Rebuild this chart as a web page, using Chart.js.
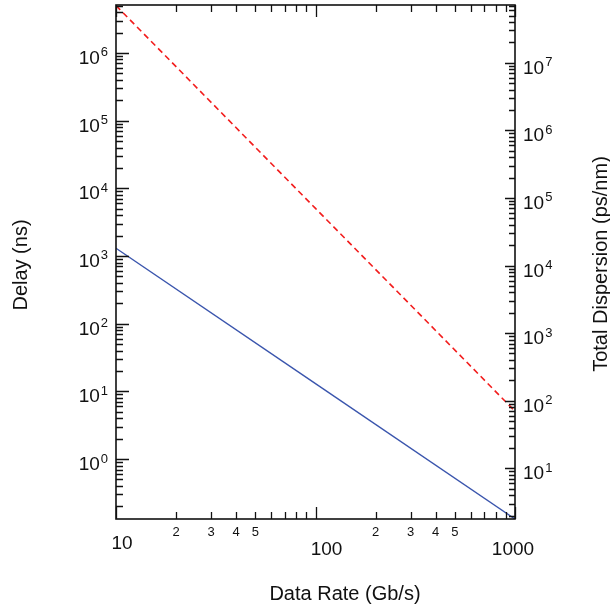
<!DOCTYPE html>
<html>
<head>
<meta charset="utf-8">
<script src="https://cdn.jsdelivr.net/npm/chart.js@4/dist/chart.umd.min.js"></script>
<style>
    body { margin: 0; background: #fff; }
    canvas { display: block; }
</style>
</head>
<body>
<canvas id="chart" width="610" height="609"></canvas>
<script>
// values (log-log, straight lines)
const dataRate = [10, 100, 1000];
const delayNs = [1300, 13, 0.13];
const dispersion = [7.0e7, 7.0e4, 70];

const xMajorTicks = [10, 100, 1000];
const xMajorLabels = ['10', '100', '1000'];
const xMinorLabelTicks = [20, 30, 40, 50, 200, 300, 400, 500];
const xMinorLabels = ['2', '3', '4', '5', '2', '3', '4', '5'];
const delayExponents = [0, 1, 2, 3, 4, 5, 6];
const dispExponents = [1, 2, 3, 4, 5, 6, 7];

const FONT = '"Liberation Sans", Arial, sans-serif';

function toPoints(xs, ys) {
    return xs.map((v, i) => ({x: v, y: ys[i]}));
}

// every decade multiple (1..9 x 10^e) that falls inside the scale
function logTicks(scale) {
    const out = [];
    const e0 = Math.floor(Math.log10(scale.min));
    const e1 = Math.ceil(Math.log10(scale.max));
    for (let e = e0; e <= e1; e++) {
        for (let m = 1; m <= 9; m++) {
            const v = m * Math.pow(10, e);
            if (v >= scale.min * 0.999 && v <= scale.max * 1.001) out.push({v: v, major: m === 1});
        }
    }
    return out;
}

function drawPower(ctx, x, baseY, exp, align) {
    ctx.font = '19px ' + FONT;
    const wb = ctx.measureText('10').width;
    ctx.font = '13px ' + FONT;
    const we = ctx.measureText(String(exp)).width;
    let left = align === 'right' ? x - wb - we - 1 : x;
    ctx.textAlign = 'left';
    ctx.textBaseline = 'alphabetic';
    ctx.font = '19px ' + FONT;
    ctx.fillText('10', left, baseY + 11);
    ctx.font = '13px ' + FONT;
    ctx.fillText(String(exp), left + wb + 1, baseY + 3.5);
}

const axisFrame = {
    id: 'axisFrame',
    afterDraw(chart) {
        const ctx = chart.ctx;
        const a = chart.chartArea;
        const sx = chart.scales.x;
        const sl = chart.scales.y;
        const sr = chart.scales.y2;

        ctx.save();
        ctx.strokeStyle = '#111';
        ctx.fillStyle = '#111';

        // inward ticks
        ctx.lineWidth = 1.3;
        ctx.beginPath();
        logTicks(sx).forEach(t => {
            const px = Math.round(sx.getPixelForValue(t.v)) + 0.5;
            const len = t.major ? 12 : 7;
            ctx.moveTo(px, a.bottom); ctx.lineTo(px, a.bottom - len);
            ctx.moveTo(px, a.top); ctx.lineTo(px, a.top + len);
        });
        logTicks(sl).forEach(t => {
            const py = Math.round(sl.getPixelForValue(t.v)) + 0.5;
            ctx.moveTo(a.left, py); ctx.lineTo(a.left + (t.major ? 13 : 7), py);
        });
        logTicks(sr).forEach(t => {
            const py = Math.round(sr.getPixelForValue(t.v)) + 0.5;
            ctx.moveTo(a.right, py); ctx.lineTo(a.right - (t.major ? 10 : 6), py);
        });
        ctx.stroke();

        // frame
        ctx.lineWidth = 1.6;
        ctx.strokeRect(a.left, a.top, a.right - a.left, a.bottom - a.top);

        // bottom labels
        const majorShift = [[6, 549], [11, 555], [-2, 555]];
        ctx.textAlign = 'center';
        ctx.textBaseline = 'alphabetic';
        ctx.font = '19px ' + FONT;
        xMajorTicks.forEach((v, i) => {
            ctx.fillText(xMajorLabels[i], sx.getPixelForValue(v) + majorShift[i][0], majorShift[i][1]);
        });
        ctx.font = '13px ' + FONT;
        xMinorLabelTicks.forEach((v, i) => {
            ctx.fillText(xMinorLabels[i], sx.getPixelForValue(v), 536);
        });

        // left and right power labels
        delayExponents.forEach(e => {
            drawPower(ctx, a.left - 8, sl.getPixelForValue(Math.pow(10, e)), e, 'right');
        });
        dispExponents.forEach(e => {
            drawPower(ctx, a.right + 8, sr.getPixelForValue(Math.pow(10, e)), e, 'left');
        });

        // axis titles
        ctx.font = '20px ' + FONT;
        ctx.textAlign = 'center';
        ctx.fillText('Data Rate (Gb/s)', 345, 600);

        ctx.save();
        ctx.translate(27, 265);
        ctx.rotate(-Math.PI / 2);
        ctx.fillText('Delay (ns)', 0, 0);
        ctx.restore();

        ctx.save();
        ctx.translate(607, 264);
        ctx.rotate(-Math.PI / 2);
        ctx.fillText('Total Dispersion (ps/nm)', 0, 0);
        ctx.restore();

        ctx.restore();
    }
};

const chart = new Chart(document.getElementById('chart'), {
    type: 'line',
    data: {
        datasets: [
            {
                label: 'Delay',
                data: toPoints(dataRate, delayNs),
                yAxisID: 'y',
                borderColor: '#3a55ad',
                borderWidth: 1.4,
                pointRadius: 0,
                fill: false
            },
            {
                label: 'Total Dispersion',
                data: toPoints(dataRate, dispersion),
                yAxisID: 'y2',
                borderColor: '#f21c1c',
                borderWidth: 1.6,
                borderDash: [6, 4],
                pointRadius: 0,
                fill: false
            }
        ]
    },
    options: {
        responsive: false,
        animation: false,
        devicePixelRatio: 1,
        layout: {padding: {left: 116, right: 95, top: 5, bottom: 90}},
        plugins: {legend: {display: false}, tooltip: {enabled: false}},
        scales: {
            x: {type: 'logarithmic', min: 10, max: 1000, display: false},
            y: {type: 'logarithmic', min: 0.13, max: 5.1e6, display: false},
            y2: {type: 'logarithmic', position: 'right', min: 1.78, max: 7.15e7, display: false}
        }
    },
    plugins: [axisFrame]
});
</script>
</body>
</html>
